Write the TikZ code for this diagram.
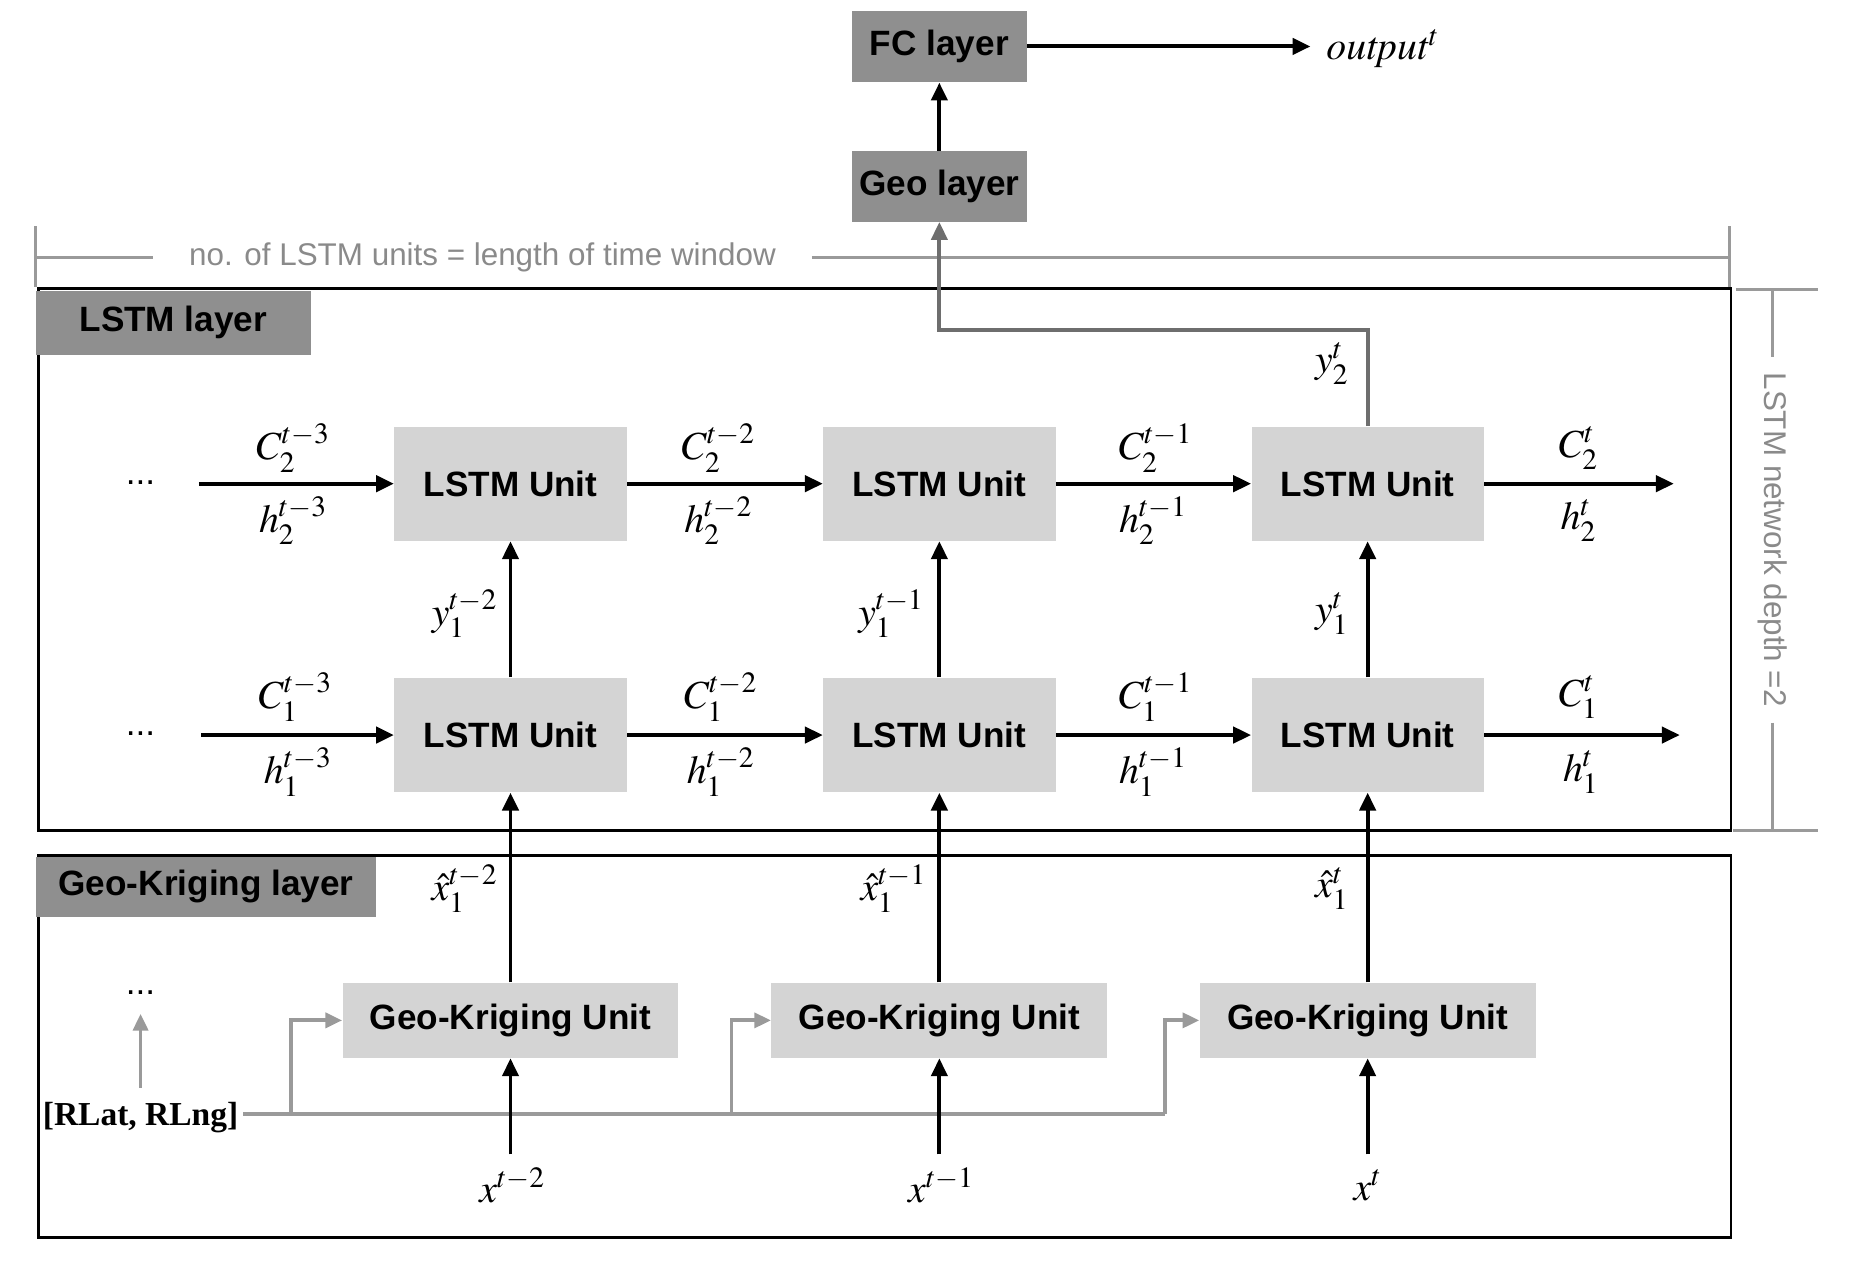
\documentclass[tikz,border=0pt]{standalone}
\usepackage{mathptmx}
\usepackage{fontspec}
\setmainfont{Liberation Sans}
\newfontfamily\serifbf{Liberation Serif}
\usetikzlibrary{arrows.meta}
\definecolor{dkbox}{HTML}{8F8F8F}
\definecolor{ltbox}{HTML}{D4D4D4}
\definecolor{dimgray}{HTML}{9A9A9A}
\definecolor{dimtext}{HTML}{8A8A8A}
\definecolor{routegray}{HTML}{6E6E6E}
\begin{document}
\begin{tikzpicture}[x=0.02cm,y=-0.02cm,
  dark/.style={fill=dkbox, inner sep=0pt, font=\fontsize{16.8}{18}\selectfont\bfseries},
  unitbox/.style={fill=ltbox, inner sep=0pt, minimum width=3.9cm, minimum height=1.92cm, font=\fontsize{16.8}{18}\selectfont\bfseries},
  gkbox/.style={fill=ltbox, inner sep=0pt, minimum width=5.64cm, minimum height=1.26cm, font=\fontsize{16.8}{18}\selectfont\bfseries},
  arr/.style={line width=1.9pt, -{Triangle[length=0.3cm,width=0.27cm]}},
  garr/.style={draw=dimgray, line width=1.8pt, -{Triangle[length=0.28cm,width=0.25cm]}},
  gline/.style={draw=dimgray, line width=1.8pt},
  rarr/.style={draw=routegray, line width=1.8pt, -{Triangle[length=0.3cm,width=0.27cm]}},
  dimline/.style={draw=dimgray, line width=1.3pt},
  dimtxt/.style={text=dimtext, font=\fontsize{15}{17}\selectfont, inner ysep=0pt},
  layerbox/.style={draw=black, line width=1.4pt},
  lbl/.style={inner sep=0pt, font=\fontsize{19}{21}\selectfont},
  dots/.style={inner sep=0pt, font=\fontsize{16.8}{18}\selectfont}
]
\useasboundingbox (0,0) rectangle (1568,1071);

% top layers
\node[dark, minimum width=2.94cm, minimum height=1.2cm] (fc) at (788.5,39) {FC layer};
\node[dark, minimum width=2.94cm, minimum height=1.18cm] (geo) at (788.5,156.5) {Geo layer};
\coordinate (outend) at (1100,39);
\draw[arr] (fc.east) -- (outend);
\node[lbl, anchor=west] (out) at (1113,41) {$\mathit{output}^{t}$};
\draw[arr] (geo.north) -- (fc.south);

% top dimension
\draw[dimline] (30,190) -- (30,241);
\draw[dimline] (1452,190) -- (1452,241);
\node[dimtxt, inner xsep=0.6cm] (dimtop) at (405,216) {no. of LSTM units = length of time window};
\draw[dimline] (30,216) -- (dimtop.west);
\draw[dimline] (dimtop.east) -- (1452,216);

% layer frames
\draw[layerbox] (32,242) rectangle (1453,697);
\draw[layerbox] (32,718) rectangle (1453,1039);
\node[dark, minimum width=4.62cm, minimum height=1.08cm] (lstmlbl) at (145.5,271) {LSTM layer};
\node[dark, minimum width=5.72cm, minimum height=1.02cm] (gklbl) at (173,744.5) {Geo-Kriging layer};

% right dimension
\draw[dimline] (1457,243) -- (1526,243);
\draw[dimline] (1455,697) -- (1526,697);
\node[dimtxt, rotate=-90, inner xsep=0.26cm] (dimright) at (1488,453) {LSTM network depth =2};
\draw[dimline] (1488,243) -- (dimright.west);
\draw[dimline] (dimright.east) -- (1488,697);

% LSTM units
\node[unitbox] (u2a) at (428.5,406) {LSTM Unit};
\node[unitbox] (u2b) at (788.5,406) {LSTM Unit};
\node[unitbox] (u2c) at (1148,406) {LSTM Unit};
\node[unitbox] (u1a) at (428.5,617) {LSTM Unit};
\node[unitbox] (u1b) at (788.5,617) {LSTM Unit};
\node[unitbox] (u1c) at (1148,617) {LSTM Unit};

\node[dots] (d2) at (118,405) {...};
\node[dots] (d1) at (118,616) {...};
\coordinate (s2) at (167,406);
\coordinate (s1) at (169,617);
\coordinate (e2) at (1405,406);
\coordinate (e1) at (1410,617);

\draw[arr] (s2) -- (u2a.west);
\draw[arr] (u2a.east) -- (u2b.west);
\draw[arr] (u2b.east) -- (u2c.west);
\draw[arr] (u2c.east) -- (e2);
\draw[arr] (s1) -- (u1a.west);
\draw[arr] (u1a.east) -- (u1b.west);
\draw[arr] (u1b.east) -- (u1c.west);
\draw[arr] (u1c.east) -- (e1);

% row 2 labels
\node[lbl] (c2a) at (246,376) {$C_2^{t-3}$};
\node[lbl] (h2a) at (246,437) {$h_2^{t-3}$};
\node[lbl] (c2b) at (603,376) {$C_2^{t-2}$};
\node[lbl] (h2b) at (603,437) {$h_2^{t-2}$};
\node[lbl] (c2c) at (970,376) {$C_2^{t-1}$};
\node[lbl] (h2c) at (968,437) {$h_2^{t-1}$};
\node[lbl] (c2d) at (1325,376) {$C_2^{t}$};
\node[lbl] (h2d) at (1325,437) {$h_2^{t}$};
% row 1 labels
\node[lbl] (c1a) at (248,585) {$C_1^{t-3}$};
\node[lbl] (h1a) at (250,648) {$h_1^{t-3}$};
\node[lbl] (c1b) at (605,585) {$C_1^{t-2}$};
\node[lbl] (h1b) at (605,648) {$h_1^{t-2}$};
\node[lbl] (c1c) at (970,585) {$C_1^{t-1}$};
\node[lbl] (h1c) at (968,648) {$h_1^{t-1}$};
\node[lbl] (c1d) at (1325,585) {$C_1^{t}$};
\node[lbl] (h1d) at (1327,648) {$h_1^{t}$};

% vertical between rows
\draw[arr] (u1a.north) -- (u2a.south);
\draw[arr] (u1b.north) -- (u2b.south);
\draw[arr] (u1c.north) -- (u2c.south);
\node[lbl] (y1a) at (390,515) {$y_1^{t-2}$};
\node[lbl] (y1b) at (748,515) {$y_1^{t-1}$};
\node[lbl] (y1c) at (1118,515) {$y_1^{t}$};

% route to Geo layer
\draw[rarr] (u2c.north) -- (1148,277) -| (geo.south);
\node[lbl] (y2c) at (1118,305) {$y_2^{t}$};

% Geo-Kriging units
\node[gkbox] (g1) at (428.5,856.5) {Geo-Kriging Unit};
\node[gkbox] (g2) at (788.5,856.5) {Geo-Kriging Unit};
\node[gkbox] (g3) at (1148,856.5) {Geo-Kriging Unit};

\draw[arr] (g1.north) -- (u1a.south);
\draw[arr] (g2.north) -- (u1b.south);
\draw[arr] (g3.north) -- (u1c.south);
\node[lbl] (xh1) at (390,746) {$\hat{x}_1^{t-2}$};
\node[lbl] (xh2) at (750,746) {$\hat{x}_1^{t-1}$};
\node[lbl] (xh3) at (1118,746) {$\hat{x}_1^{t}$};

% inputs
\node[lbl] (x1) at (430,995) {$x^{t-2}$};
\node[lbl] (x2) at (790,995) {$x^{t-1}$};
\node[lbl] (x3) at (1148,995) {$x^{t}$};
\coordinate (i1) at (428.5,969);
\coordinate (i2) at (788.5,969);
\coordinate (i3) at (1148,969);

% RLat / RLng routing (drawn below black input arrows)
\node[inner sep=0pt, font=\fontsize{16}{18}\selectfont\serifbf\bfseries] (rl) at (118,938) {[RLat, RLng]};
\coordinate (rlout) at (204,935);
\coordinate (b1) at (244,935);
\coordinate (b2) at (614,935);
\coordinate (b3) at (978,935);
\draw[gline] (rlout) -- (b3);
\draw[garr] (b3) |- (g3.west);
\draw[garr] (b1) |- (g1.west);
\draw[garr] (b2) |- (g2.west);
\node[dots] (dgk) at (118,833) {...};
\coordinate (rlup) at (118,913);
\coordinate (rltip) at (118,851);
\draw[garr] (rlup) -- (rltip);

\draw[arr] (i1) -- (g1.south);
\draw[arr] (i2) -- (g2.south);
\draw[arr] (i3) -- (g3.south);
\end{tikzpicture}
\end{document}
